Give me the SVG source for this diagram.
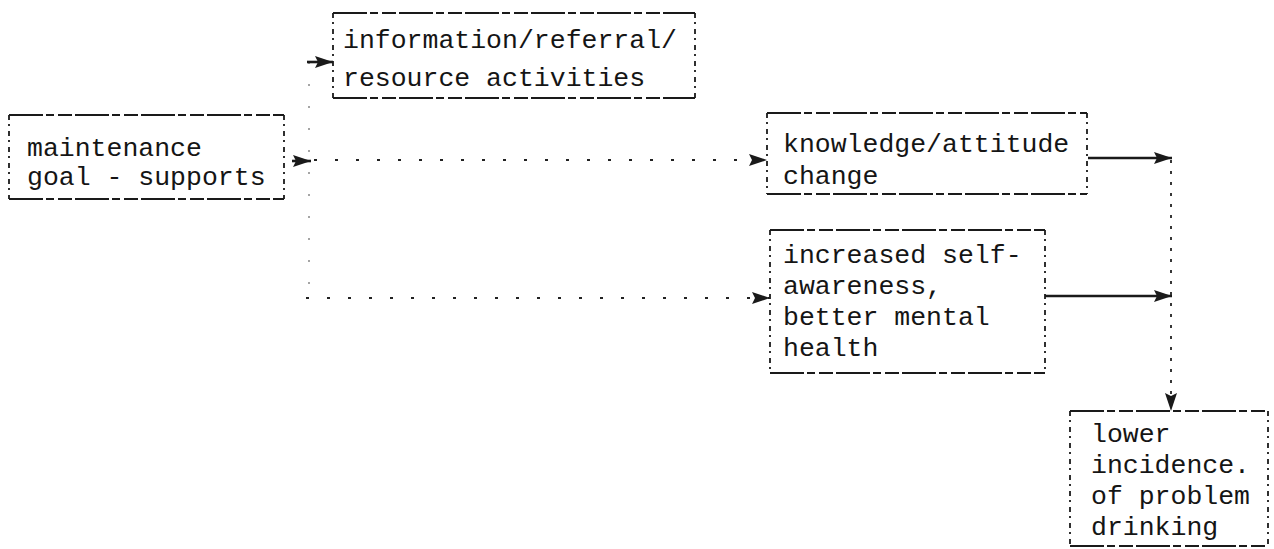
<svg xmlns="http://www.w3.org/2000/svg" width="1274" height="549" viewBox="0 0 1274 549">
  <style>
    .h{fill:none;stroke:#1a1a1a;stroke-width:2;stroke-dasharray:34 3 8 4 14 3}
    .v{fill:none;stroke:#1a1a1a;stroke-width:1.8;stroke-dasharray:5 4 2 5}
    .t{font-family:"Liberation Mono","DejaVu Sans Mono",monospace;font-size:26.5px;fill:#151515}
    .dots{fill:none;stroke:#222;stroke-width:2;stroke-dasharray:3 18}
    .trunk{fill:none;stroke:#333;stroke-width:1.6;stroke-dasharray:2 20;opacity:0.55}
    .solid{fill:none;stroke:#1a1a1a;stroke-width:2.6}
    .vdots{fill:none;stroke:#222;stroke-width:1.8;stroke-dasharray:3 8}
  </style>
  <defs>
    <marker id="ah" viewBox="0 0 18 12" refX="18" refY="6" markerUnits="userSpaceOnUse" markerWidth="18" markerHeight="12" orient="auto">
      <path d="M0,0 L18,6 L0,12 L3,6 z" fill="#1a1a1a"/>
    </marker>
  </defs>

  <g id="node-maintenance">
    <path class="h" d="M9,115 H284 M9,199 H284"/>
    <path class="v" d="M9,115 V199 M284,115 V199"/>
    <text class="t" x="27" y="156">maintenance</text>
    <text class="t" x="27" y="185">goal - supports</text>
  </g>

  <g id="node-information">
    <path class="h" d="M333,13 H695 M333,98 H695"/>
    <path class="v" d="M333,13 V98 M695,13 V98"/>
    <text class="t" x="343" y="48">information/referral/</text>
    <text class="t" x="343" y="86">resource activities</text>
  </g>

  <g id="node-knowledge">
    <path class="h" d="M767,113 H1087 M767,194 H1087"/>
    <path class="v" d="M767,113 V194 M1087,113 V194"/>
    <text class="t" x="783" y="152">knowledge/attitude</text>
    <text class="t" x="783" y="184">change</text>
  </g>

  <g id="node-selfawareness">
    <path class="h" d="M770,230 H1045 M770,373 H1045"/>
    <path class="v" d="M770,230 V373 M1045,230 V373"/>
    <text class="t" x="783" y="263">increased self-</text>
    <text class="t" x="783" y="294">awareness,</text>
    <text class="t" x="783" y="325">better mental</text>
    <text class="t" x="783" y="356">health</text>
  </g>

  <g id="node-lower-incidence">
    <path class="h" d="M1070,411 H1268 M1070,546 H1268"/>
    <path class="v" d="M1070,411 V546 M1268,411 V546"/>
    <text class="t" x="1091" y="442">lower</text>
    <text class="t" x="1091" y="473">incidence.</text>
    <text class="t" x="1091" y="504">of problem</text>
    <text class="t" x="1091" y="535">drinking</text>
  </g>

  <g id="connectors">
    <!-- outgoing arrow from the maintenance goal -->
    <line class="solid" x1="292" y1="161" x2="311" y2="161" marker-end="url(#ah)"/>
    <!-- faint vertical trunk feeding the three branches -->
    <line class="trunk" x1="309" y1="62" x2="309" y2="298"/>
    <!-- branch to information/referral -->
    <line class="solid" x1="307" y1="62" x2="333" y2="62" marker-end="url(#ah)"/>
    <!-- branch to knowledge/attitude change -->
    <line class="dots" x1="314" y1="160" x2="767" y2="160" marker-end="url(#ah)"/>
    <!-- branch to increased self-awareness -->
    <line class="dots" x1="306" y1="298" x2="770" y2="298" marker-end="url(#ah)"/>
    <!-- outcomes into the collector line -->
    <line class="solid" x1="1088" y1="158" x2="1172" y2="158" marker-end="url(#ah)"/>
    <line class="solid" x1="1045" y1="296" x2="1172" y2="296" marker-end="url(#ah)"/>
    <!-- collector down to lower incidence -->
    <line class="vdots" x1="1171" y1="160" x2="1171" y2="411" marker-end="url(#ah)"/>
  </g>
</svg>
